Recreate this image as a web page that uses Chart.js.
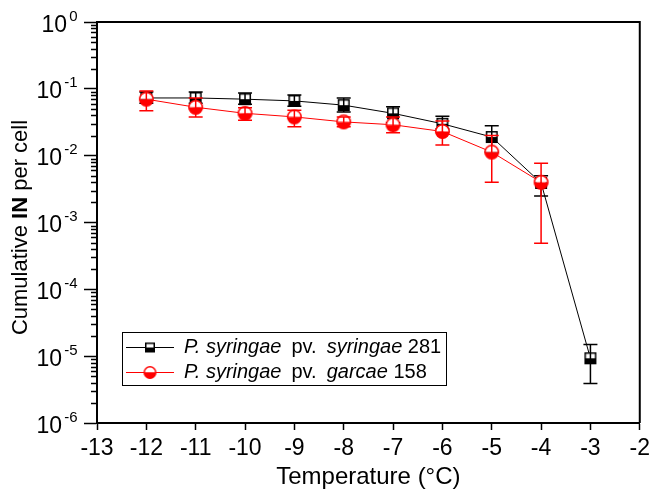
<!DOCTYPE html>
<html>
<head>
<meta charset="utf-8">
<script src="https://cdn.jsdelivr.net/npm/chart.js@4/dist/chart.umd.min.js"></script>
<style>
body{margin:0;background:#fff;}
#wrap{position:relative;width:655px;height:494px;}
#legend{position:absolute;left:122px;top:332px;width:325px;height:54px;border:1px solid #000;background:#fff;
  font-family:"Liberation Sans",Arial,sans-serif;font-size:20px;color:#000;box-sizing:border-box;padding-top:1px;}
.row{height:25px;display:flex;align-items:center;white-space:nowrap;}
.row canvas{margin-left:1px;margin-right:8px;}
.sp{display:inline-block;width:10px;}
</style>
</head>
<body>
<div id="wrap">
<canvas id="chart" width="655" height="494"></canvas>
<div id="legend">
  <div class="row"><canvas id="leg1" width="52" height="20"></canvas><span><i>P. syringae</i><span class="sp"></span>pv.<span class="sp"></span><i>syringae</i> 281</span></div>
  <div class="row"><canvas id="leg2" width="52" height="20"></canvas><span><i>P. syringae</i><span class="sp"></span>pv.<span class="sp"></span><i>garcae</i> 158</span></div>
</div>
</div>
<script>
// data
var temps = [-12, -11, -10, -9, -8, -7, -6, -5, -4, -3];
var pss281 = [0.073, 0.073, 0.070, 0.066, 0.057, 0.043, 0.030, 0.019, 0.0039, 9.3e-6];
var pss281Hi = [0.090, 0.090, 0.087, 0.081, 0.073, 0.054, 0.039, 0.028, 0.0050, 1.5e-5];
var pss281Lo = [0.061, 0.061, 0.059, 0.055, 0.045, 0.031, 0.025, 0.0113, 0.0025, 3.9e-6];

var tempsG = [-12, -11, -10, -9, -8, -7, -6, -5, -4];
var psg158 = [0.070, 0.053, 0.043, 0.038, 0.032, 0.029, 0.023, 0.0113, 0.0040];
var psg158Hi = [0.093, 0.073, 0.052, 0.048, 0.038, 0.038, 0.033, 0.020, 0.0077];
var psg158Lo = [0.047, 0.038, 0.034, 0.027, 0.027, 0.022, 0.0144, 0.0040, 0.00049];

var xTicks = [-13, -12, -11, -10, -9, -8, -7, -6, -5, -4, -3, -2];
var yTicks = [1e-6, 1e-5, 1e-4, 1e-3, 1e-2, 1e-1, 1];

var FONT = '"Liberation Sans", Arial, sans-serif';

// half filled markers
function squareMarker(size, color){
  var c=document.createElement('canvas');
  c.width=size+2; c.height=size+2;
  var g=c.getContext('2d');
  g.fillStyle='#fff'; g.fillRect(1,1,size,size/2);
  g.fillStyle=color; g.fillRect(1,1+size/2,size,size/2);
  g.strokeStyle=color; g.lineWidth=1.5;
  g.strokeRect(1.75,1.75,size-1.5,size-1.5);
  return c;
}
function circleMarker(size, color){
  var c=document.createElement('canvas');
  c.width=size+2; c.height=size+2;
  var g=c.getContext('2d');
  var r=size/2, m=1+r;
  g.fillStyle='#fff';
  g.beginPath(); g.arc(m,m,r-0.5,Math.PI,0); g.fill();
  g.fillStyle=color;
  g.beginPath(); g.arc(m,m,r-0.5,0,Math.PI); g.fill();
  g.strokeStyle=color; g.lineWidth=1.5;
  g.beginPath(); g.arc(m,m,r-0.75,0,2*Math.PI); g.stroke();
  return c;
}

var sqMark = squareMarker(12,'#000');
var ciMark = circleMarker(15,'#ff0000');

function pts(xs, ys){
  return xs.map(function(x,i){ return {x:x, y:ys[i]}; });
}

var errorBars = {
  id:'errorBars',
  afterDatasetDraw:function(chart, args){
    var ds = chart.data.datasets[args.index];
    var ctx = chart.ctx, xs = chart.scales.x, ys = chart.scales.y;
    ctx.save();
    ctx.strokeStyle = ds.borderColor;
    ctx.lineWidth = 1.5;
    ds.data.forEach(function(p,i){
      var px = xs.getPixelForValue(p.x);
      var top = ys.getPixelForValue(ds.errHi[i]);
      var bot = ys.getPixelForValue(ds.errLo[i]);
      ctx.beginPath();
      ctx.moveTo(px,top); ctx.lineTo(px,bot);
      ctx.moveTo(px-7,top); ctx.lineTo(px+7,top);
      ctx.moveTo(px-7,bot); ctx.lineTo(px+7,bot);
      ctx.stroke();
    });
    ctx.restore();
  }
};

// frame, minor log ticks, 10^n labels and y title
var frame = {
  id:'frame',
  afterDraw:function(chart){
    var ctx = chart.ctx, a = chart.chartArea, ys = chart.scales.y;
    ctx.save();
    ctx.strokeStyle='#000';
    ctx.lineWidth=2;
    ctx.beginPath();
    ctx.moveTo(a.left,a.top); ctx.lineTo(a.right,a.top); ctx.lineTo(a.right,a.bottom);
    ctx.stroke();
    ctx.lineWidth=1.5;
    ctx.beginPath();
    for(var e=-6;e<0;e++){
      for(var m=2;m<10;m++){
        var py = Math.round(ys.getPixelForValue(m*Math.pow(10,e)))+0.5;
        ctx.moveTo(a.left-6,py); ctx.lineTo(a.left,py);
      }
    }
    ctx.stroke();

    ctx.fillStyle='#000';
    ctx.textAlign='right';
    ctx.textBaseline='alphabetic';
    yTicks.forEach(function(v){
      var py = ys.getPixelForValue(v);
      var ex = String(Math.round(Math.log10(v)));
      var xr = a.left-19.5;
      ctx.font='15px '+FONT;
      ctx.fillText(ex, xr, py-1.5);
      var w = ctx.measureText(ex).width;
      ctx.font='23px '+FONT;
      ctx.fillText('10', xr-w-2, py+9.5);
    });

    var parts = [['Cumulative ','normal'],['IN','bold'],[' per cell','normal']];
    ctx.translate(21, (a.top+a.bottom)/2+5);
    ctx.rotate(-Math.PI/2);
    ctx.textAlign='left';
    ctx.textBaseline='middle';
    var total=0;
    parts.forEach(function(p){ ctx.font=p[1]+' 22px '+FONT; total+=ctx.measureText(p[0]).width; });
    var cx=-total/2;
    parts.forEach(function(p){
      ctx.font=p[1]+' 22px '+FONT;
      ctx.fillText(p[0], cx, 0);
      cx+=ctx.measureText(p[0]).width;
    });
    ctx.restore();
  }
};

new Chart(document.getElementById('chart'), {
  type:'line',
  data:{
    datasets:[
      {
        label:'P. syringae pv. syringae 281',
        data:pts(temps, pss281),
        errHi:pss281Hi, errLo:pss281Lo,
        borderColor:'#000', borderWidth:1,
        pointStyle:sqMark, order:2
      },
      {
        label:'P. syringae pv. garcae 158',
        data:pts(tempsG, psg158),
        errHi:psg158Hi, errLo:psg158Lo,
        borderColor:'#ff0000', borderWidth:1,
        pointStyle:ciMark, order:1
      }
    ]
  },
  options:{
    responsive:false,
    animation:false,
    layout:{padding:{top:22,right:12}},
    plugins:{legend:{display:false}, tooltip:{enabled:false}},
    scales:{
      x:{
        type:'linear', min:-13, max:-2,
        afterBuildTicks:function(s){ s.ticks = xTicks.map(function(v){ return {value:v}; }); },
        afterFit:function(s){ s.height = 71; },
        border:{display:true, color:'#000', width:2},
        grid:{display:true, drawOnChartArea:false, tickLength:7, tickColor:'#000', tickWidth:1.5},
        ticks:{color:'#000', font:{family:FONT, size:23}, padding:5, maxRotation:0},
        title:{display:true, text:'Temperature (\u00B0C)', color:'#000', font:{family:FONT, size:24}, padding:{top:0,bottom:2}}
      },
      y:{
        type:'logarithmic', min:1e-6, max:1,
        afterBuildTicks:function(s){ s.ticks = yTicks.map(function(v){ return {value:v}; }); },
        afterFit:function(s){ s.width = 97; },
        border:{display:true, color:'#000', width:2},
        grid:{display:true, drawOnChartArea:false, tickLength:13, tickColor:'#000', tickWidth:1.5},
        ticks:{display:false},
        title:{display:false}
      }
    }
  },
  plugins:[errorBars, frame]
});

// legend samples
function legSample(id, mark, color){
  var g = document.getElementById(id).getContext('2d');
  g.strokeStyle=color; g.lineWidth=1;
  g.beginPath(); g.moveTo(2,10.5); g.lineTo(50,10.5); g.stroke();
  g.drawImage(mark, 26-mark.width/2, 10.5-mark.height/2);
}
legSample('leg1', squareMarker(10,'#000'), '#000');
legSample('leg2', circleMarker(13,'#ff0000'), '#ff0000');
</script>
</body>
</html>
